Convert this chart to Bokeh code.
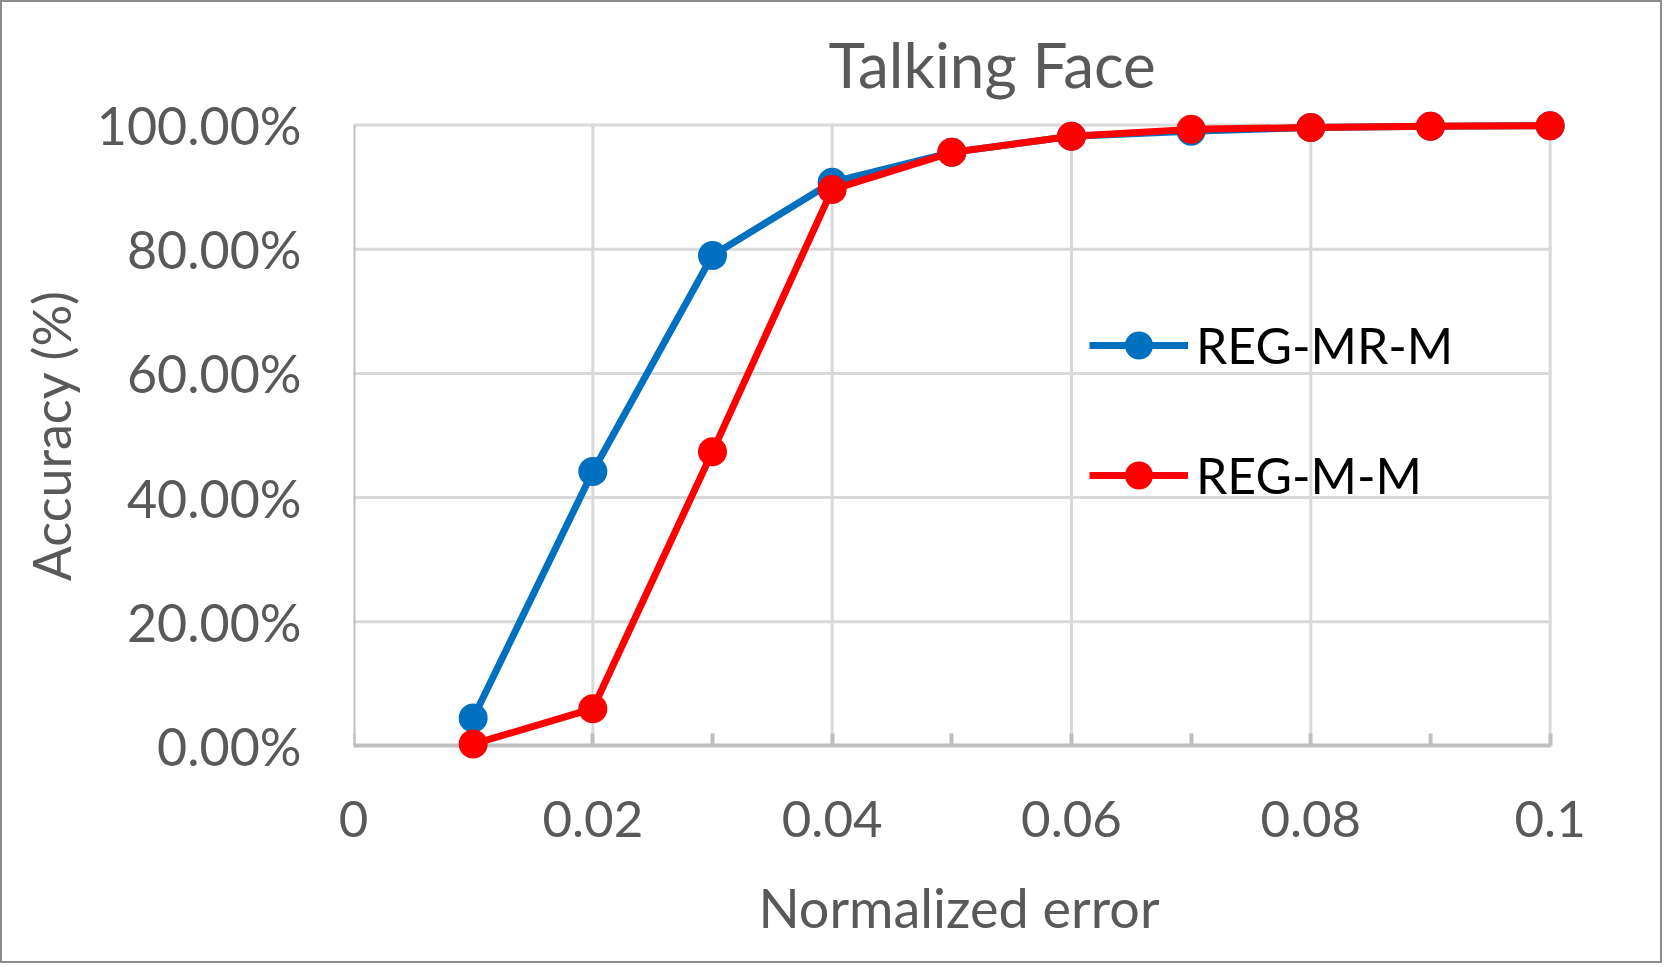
from bokeh.plotting import figure
from bokeh.models import Range1d, FixedTicker, Legend, LegendItem, LinearAxis
from bokeh.embed import file_html
from bokeh.resources import INLINE

# ---- data ----
x_values = [0.01, 0.02, 0.03, 0.04, 0.05, 0.06, 0.07, 0.08, 0.09, 0.10]
reg_mr_m = [0.045, 0.442, 0.790, 0.908, 0.956, 0.982, 0.990, 0.996, 0.998, 0.999]
reg_m_m = [0.003, 0.060, 0.474, 0.896, 0.956, 0.982, 0.993, 0.996, 0.998, 0.999]
series_names = ["REG-MR-M", "REG-M-M"]

x_ticks = [0, 0.02, 0.04, 0.06, 0.08, 0.1]
x_tick_labels = ["0", "0.02", "0.04", "0.06", "0.08", "0.1"]
x_minor_ticks = [0.01, 0.03, 0.05, 0.07, 0.09]
y_ticks = [0, 0.2, 0.4, 0.6, 0.8, 1.0]
y_tick_labels = ["0.00%", "20.00%", "40.00%", "60.00%", "80.00%", "100.00%"]

FONT = "Lato"
TXT = "#595959"
BLUE = "#0070C0"
RED = "#FF0000"
GRID = "#D9D9D9"
AXIS = "#BFBFBF"

X_MIN, X_MAX = 0.0, 0.1
Y_MIN, Y_MAX = 0.0, 1.0

p = figure(width=1662, height=963, output_backend="svg", toolbar_location=None,
           x_range=Range1d(X_MIN, 0.1012), y_range=Range1d(-0.025, 1.025),
           min_border_left=351, min_border_right=100, min_border_top=107,
           min_border_bottom=204, title="Talking Face")
p.styles = {"border": "2px solid #8c8c8c"}
p.outline_line_color = None
p.background_fill_color = "white"
p.border_fill_color = "white"

p.title.align = "left"
p.title.offset = 475
p.title.text_font = FONT
p.title.text_font_size = "62px"
p.title.text_font_style = "normal"
p.title.text_color = TXT
p.title.standoff = 18

# ---- label axes (at the frame edges): tick labels and axis titles only ----
xlab = p.below[0]
ylab = p.left[0]
xlab.ticker = FixedTicker(ticks=x_ticks)
xlab.major_label_overrides = dict(zip(x_ticks, x_tick_labels))
ylab.ticker = FixedTicker(ticks=y_ticks)
ylab.major_label_overrides = dict(zip(y_ticks, y_tick_labels))
for ax in (xlab, ylab):
    ax.axis_line_color = None
    ax.major_tick_line_color = None
    ax.minor_tick_line_color = None
    ax.major_tick_in = 0
    ax.major_tick_out = 0
    ax.minor_tick_in = 0
    ax.minor_tick_out = 0
    ax.major_label_text_font = FONT
    ax.major_label_text_color = TXT
    ax.axis_label_text_font = FONT
    ax.axis_label_text_font_style = "normal"
    ax.axis_label_text_color = TXT

xlab.axis_label = "Normalized error"
xlab.major_label_text_font_size = "51px"
xlab.axis_label_text_font_size = "54px"
xlab.major_label_standoff = 39
xlab.axis_label_standoff = 35

ylab.axis_label = "Accuracy (%)"
ylab.major_label_text_font_size = "52px"
ylab.axis_label_text_font_size = "52px"
ylab.major_label_standoff = 52
ylab.axis_label_standoff = 12

# ---- line axes at the data origin: axis line and tick marks ----
xline = LinearAxis(fixed_location=Y_MIN, bounds=(X_MIN, X_MAX),
                   ticker=FixedTicker(ticks=x_ticks, minor_ticks=x_minor_ticks),
                   axis_line_color=AXIS, axis_line_width=4,
                   major_tick_in=12, major_tick_out=0, minor_tick_in=12, minor_tick_out=0,
                   major_tick_line_color=AXIS, minor_tick_line_color=AXIS,
                   major_tick_line_width=4, minor_tick_line_width=4,
                   major_label_text_alpha=0, major_label_text_font_size="1px")
yline = LinearAxis(fixed_location=X_MIN, bounds=(Y_MIN, Y_MAX),
                   ticker=FixedTicker(ticks=y_ticks),
                   axis_line_color=AXIS, axis_line_width=4,
                   major_tick_in=0, major_tick_out=0, minor_tick_line_color=None,
                   major_tick_line_color=None,
                   major_label_text_alpha=0, major_label_text_font_size="1px")
p.add_layout(xline, "below")
p.add_layout(yline, "left")

# gridlines, bounded to the axes' extent
p.xgrid.visible = False
p.ygrid.visible = False
vx = x_ticks[1:]
p.segment(x0=vx, y0=[Y_MIN] * len(vx), x1=vx, y1=[Y_MAX] * len(vx),
          line_color=GRID, line_width=3, line_cap="square", level="underlay")
hy = y_ticks[1:]
p.segment(x0=[X_MIN] * len(hy), y0=hy, x1=[X_MAX] * len(hy), y1=hy,
          line_color=GRID, line_width=3, line_cap="square", level="underlay")

# series
l1 = p.line(x_values, reg_mr_m, line_color=BLUE, line_width=7, level="annotation")
s1 = p.scatter(x_values, reg_mr_m, marker="circle", size=29, fill_color=BLUE,
               line_color=BLUE, line_width=0, level="annotation")
l2 = p.line(x_values, reg_m_m, line_color=RED, line_width=7, level="annotation")
s2 = p.scatter(x_values, reg_m_m, marker="circle", size=29, fill_color=RED,
               line_color=RED, line_width=0, level="annotation")

legend = Legend(items=[LegendItem(label=series_names[0], renderers=[l1, s1]),
                       LegendItem(label=series_names[1], renderers=[l2, s2])],
                location=(736, 251), orientation="vertical",
                glyph_width=99, glyph_height=70, spacing=60, padding=0, margin=0,
                label_standoff=8, label_text_font=FONT, label_text_font_size="50px",
                label_text_color="black", border_line_alpha=0, background_fill_alpha=0)
p.add_layout(legend, "center")

open("out.html", "w").write(file_html(p, INLINE))
